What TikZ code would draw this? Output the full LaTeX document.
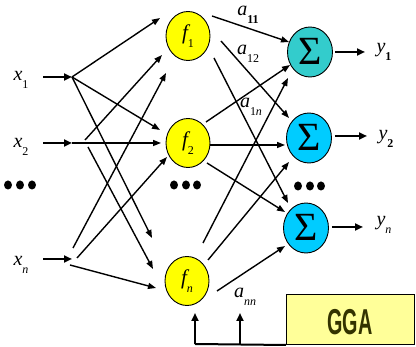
\documentclass[tikz,border=0pt]{standalone}
\usepackage{fontspec}
\setmainfont{Liberation Serif}
\newfontfamily\ggafont{Liberation Sans}
\usetikzlibrary{shapes.geometric,arrows.meta}
\definecolor{hidyellow}{HTML}{FFFF00}
\definecolor{sumteal}{HTML}{33CCCC}
\definecolor{sumcyan}{HTML}{00CCFF}
\definecolor{boxyellow}{HTML}{FFFF99}
\definecolor{ggatext}{HTML}{333300}
% lowered index set upright unless the argument says otherwise
\newcommand\sbs[1]{\raisebox{-0.38em}{\fontsize{12}{12}\selectfont\upshape #1}}
\begin{document}
\begin{tikzpicture}[x=1pt,y=-1pt,
  hid/.style={ellipse, draw=black, line width=0.9pt, fill=hidyellow,
    minimum width=44pt, minimum height=49pt, inner sep=0pt,
    font=\fontsize{21}{21}\selectfont\itshape},
  sumnode/.style={ellipse, draw=black, line width=0.9pt,
    minimum width=45pt, minimum height=50pt, inner sep=0pt,
    font=\fontsize{40}{40}\selectfont},
  lbl/.style={inner sep=0pt, font=\fontsize{20}{20}\selectfont\itshape},
  conn/.style={line width=1.4pt, -{Triangle[length=8pt,width=6pt]}},
  inarr/.style={line width=2pt, -{Triangle[length=8pt,width=7pt]}},
  dot/.style={fill=black, draw=none},
]
\useasboundingbox (0,0) rectangle (416,347);

% hidden layer
\node[hid] (f1) at (188,36) {f\sbs{1}};
\node[hid] (f2) at (188,143) {f\sbs{2}};
\node[hid] (fn) at (187,281) {f\sbs{\itshape n}};

% summation layer
\node[sumnode, fill=sumteal] (s1) at (310,52) {\raisebox{0.05em}{Σ}};
\node[sumnode, fill=sumcyan] (s2) at (309,138) {\raisebox{0.05em}{Σ}};
\node[sumnode, fill=sumcyan] (sn) at (306,228) {\raisebox{0.05em}{Σ}};

% input labels
\node[lbl] (x1) at (21,80) {x\sbs{1}};
\node[lbl] (x2) at (21,147) {x\sbs{2}};
\node[lbl] (xn) at (21,265) {x\sbs{\itshape n}};

% output labels
\node[lbl] (y1) at (384,52) {y\sbs{\bfseries 1}};
\node[lbl] (y2) at (386,139) {y\sbs{\bfseries 2}};
\node[lbl] (yn) at (384,225) {y\sbs{\itshape n}};

% weight labels
\node[lbl] (a11) at (248,15) {a\sbs{\bfseries 11}};
\node[lbl] (a12) at (248,54) {a\sbs{12}};
\node[lbl] (a1n) at (251,107) {a\sbs{1\itshape n}};
\node[lbl] (ann) at (245,297) {a\sbs{\itshape nn}};

% ellipsis dots
\foreach \px in {8,20,32} \fill[dot] (\px,185) ellipse (4 and 4.5);
\foreach \px in {174,186,197} \fill[dot] (\px,185) ellipse (4 and 4.5);
\foreach \px in {298,310,321} \fill[dot] (\px,186) ellipse (4 and 4.5);

% input branching points
\coordinate (h1) at (72,77);
\coordinate (h2) at (72,143);
\coordinate (hn) at (72,259);
\coordinate (h2a) at (85,140);
\coordinate (h2b) at (88,147);
\coordinate (hna) at (73,248);
\coordinate (hnb) at (77,258);
\coordinate (hnc) at (70,265);
\coordinate (i1) at (43,77);
\coordinate (i2) at (43,143);
\coordinate (in) at (43,259);

\draw[inarr] (i1) -- (h1);
\draw[inarr] (i2) -- (h2);
\draw[inarr] (in) -- (hn);

% tips of the input-to-hidden arrows
\coordinate (t1a) at (160,18);
\coordinate (t1b) at (162,55);
\coordinate (t1c) at (166,73);
\coordinate (t2a) at (160,130);
\coordinate (t2b) at (161,143);
\coordinate (t2c) at (167,157);
\coordinate (tna) at (152,238);
\coordinate (tnb) at (153,269);
\coordinate (tnc) at (156,288);

\draw[conn] (h1) -- (t1a);
\draw[conn] (h1) -- (t2a);
\draw[conn] (h1) -- (tna);
\draw[conn] (h2a) -- (t1b);
\draw[conn] (h2) -- (t2b);
\draw[conn] (h2b) -- (tnb);
\draw[conn] (hna) -- (t1c);
\draw[conn] (hnb) -- (t2c);
\draw[conn] (hnc) -- (tnc);

% hidden to summation connections
\coordinate (o1a) at (212,16);
\coordinate (o1b) at (221,41);
\coordinate (o1c) at (214,58);
\coordinate (o2a) at (206,122);
\coordinate (o2b) at (210,145);
\coordinate (o2c) at (207,163);
\coordinate (ona) at (203,243);
\coordinate (onb) at (208,260);
\coordinate (onc) at (217,291);

\coordinate (u1a) at (289,42);
\coordinate (u1b) at (290,65);
\coordinate (u1c) at (288,78);
\coordinate (u2a) at (289,118);
\coordinate (u2b) at (285,145);
\coordinate (u2c) at (289,162);
\coordinate (una) at (288,203);
\coordinate (unb) at (285,212);
\coordinate (unc) at (285,246);

\draw[conn] (o1a) -- (u1a);
\draw[conn] (o1b) -- (u2a);
\draw[conn] (o1c) -- (una);
\draw[conn] (o2a) -- (u1b);
\draw[conn] (o2b) -- (u2b);
\draw[conn] (o2c) -- (unb);
\draw[conn] (ona) -- (u1c);
\draw[conn] (onb) -- (u2c);
\draw[conn] (onc) -- (unc);

% outputs
\draw[inarr] (s1.east) ++(2,0) coordinate (e1) -- (365,52) coordinate (r1);
\draw[inarr] (s2.east) ++(3,-2) coordinate (e2) -- (367,136) coordinate (r2);
\draw[inarr] (sn.east) ++(3,-1) coordinate (en) -- (363,227) coordinate (rn);

% GGA block and feedback lines
\node[draw=black, line width=1pt, fill=boxyellow, minimum width=128pt,
  minimum height=50pt, inner sep=0pt, anchor=north west] (gga) at (286,294) {};
\node[inner sep=0pt, text=ggatext] (ggalbl) at (350,322)
  {\ggafont\bfseries\fontsize{36}{36}\selectfont\scalebox{0.55}[1]{GGA}};

\coordinate (fb1) at (195,344);
\coordinate (fb2) at (240,344);
\draw[line width=2pt] (gga.south west) -- (fb1);
\draw[inarr] (fb1) -- (195,313) coordinate (fbt1);
\draw[inarr] (fb2) -- (240,313) coordinate (fbt2);
\end{tikzpicture}
\end{document}
